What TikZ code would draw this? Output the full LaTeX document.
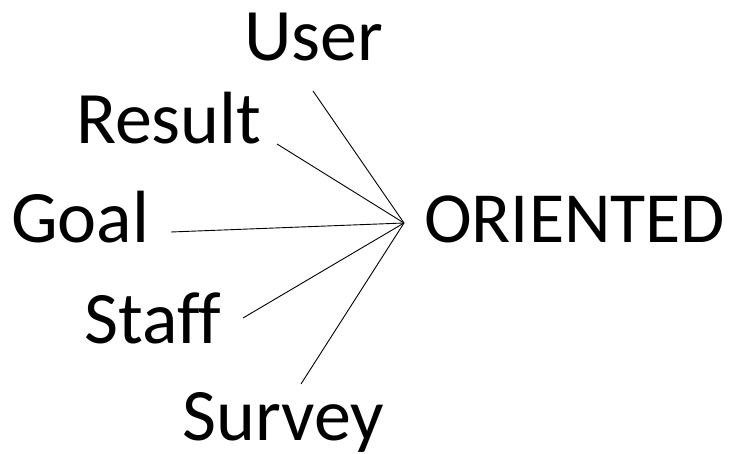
\documentclass[tikz,border=0pt]{standalone}
\usepackage{fontspec}
\setmainfont{Carlito}[Ligatures=NoCommon]
\begin{document}
\begin{tikzpicture}[x=1pt,y=-1pt,
  word/.style={anchor=base west,inner sep=0pt,font=\fontsize{74}{88}\selectfont},
  spoke/.style={draw=black,line width=0.9pt}]
\useasboundingbox (0,0) rectangle (739,454);
% words
\node[word] (user)     at (244,61)  {User};
\node[word] (result)   at (76,144)  {Result};
\node[word] (goal)     at (11,243)  {Goal};
\node[word] (staff)    at (84,343)  {Staff};
\node[word] (survey)   at (182,440) {Survey};
\node[word,font=\fontsize{72}{86}\selectfont] (oriented) at (424,243) {ORIENTED};
% meeting point and free ends of the spokes
\coordinate (hub) at (404,223);
\coordinate (uEnd) at (313,91);
\coordinate (rEnd) at (277,144);
\coordinate (gEnd) at (171,232);
\coordinate (sEnd) at (243,318);
\coordinate (vEnd) at (301,384);
\draw[spoke] (uEnd) -- (hub);
\draw[spoke] (rEnd) -- (hub);
\draw[spoke] (gEnd) -- (hub);
\draw[spoke] (sEnd) -- (hub);
\draw[spoke] (vEnd) -- (hub);
\end{tikzpicture}
\end{document}
